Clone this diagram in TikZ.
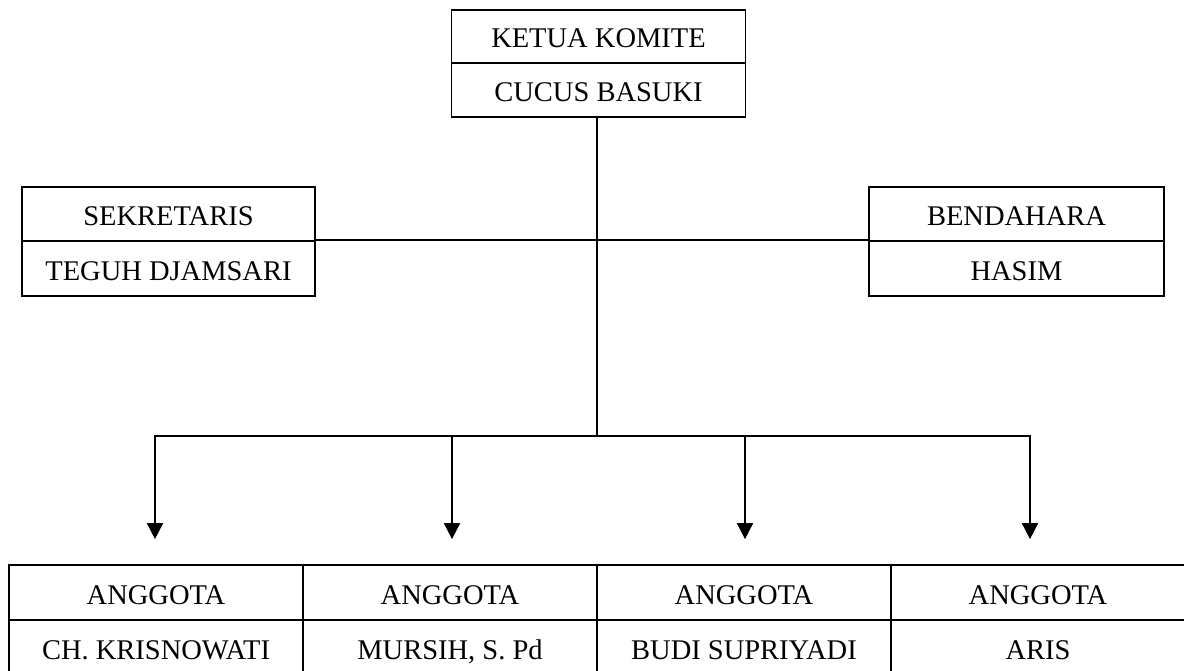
\documentclass[tikz,border=0pt]{standalone}
\usepackage{fontspec}
\setmainfont{Liberation Serif}
\usetikzlibrary{arrows.meta}
\begin{document}
\begin{tikzpicture}[x=1pt,y=-1pt,
  cell/.style={draw, line width=1.7pt, rectangle, minimum width=294pt, inner sep=0pt,
    text height=23pt, text depth=0pt,
    font=\fontsize{28.5}{32}\selectfont},
  conn/.style={line width=1.7pt},
  arr/.style={line width=1.7pt, -{Triangle[width=16pt,length=16pt]}}]
\useasboundingbox[fill=white] (0,0) rectangle (1184,671);
% top
\node[cell, minimum height=53pt] (ketua) at (598.5,36.5) {KETUA KOMITE};
\node[cell, minimum height=54pt] (cucus) at (598.5,90) {CUCUS BASUKI};
% sekretaris
\node[cell, minimum width=293pt, minimum height=54pt] (sek1) at (168.5,214) {SEKRETARIS};
\node[cell, minimum width=293pt, minimum height=55pt] (sek2) at (168.5,268.5) {TEGUH DJAMSARI};
% bendahara
\node[cell, minimum width=295pt, minimum height=54pt] (ben1) at (1016.5,214) {BENDAHARA};
\node[cell, minimum width=295pt, minimum height=55pt] (ben2) at (1016.5,268.5) {HASIM};
% anggota
\node[cell, minimum height=55pt] (a1) at (156,592.5) {ANGGOTA};
\node[cell, minimum height=55pt] (b1) at (156,647.5) {CH. KRISNOWATI};
\node[cell, minimum height=55pt] (a2) at (450,592.5) {ANGGOTA};
\node[cell, minimum height=55pt] (b2) at (450,647.5) {MURSIH, S. Pd};
\node[cell, minimum height=55pt] (a3) at (744,592.5) {ANGGOTA};
\node[cell, minimum height=55pt] (b3) at (744,647.5) {BUDI SUPRIYADI};
\node[cell, minimum height=55pt] (a4) at (1038,592.5) {ANGGOTA};
\node[cell, minimum height=55pt] (b4) at (1038,647.5) {ARIS};
% connectors
\coordinate (hub) at (597,436);
\draw[conn] (hub |- cucus.south) -- (hub);
\draw[conn] (sek2.north east) -- (ben2.north west);
\draw[arr] (hub) -| ([xshift=-1pt,yshift=25pt]a1.north);
\draw[arr] (hub) -| ([xshift=2pt,yshift=25pt]a2.north);
\draw[arr] (hub) -| ([xshift=1pt,yshift=25pt]a3.north);
\draw[arr] (hub) -| ([xshift=-8pt,yshift=25pt]a4.north);
\end{tikzpicture}
\end{document}
